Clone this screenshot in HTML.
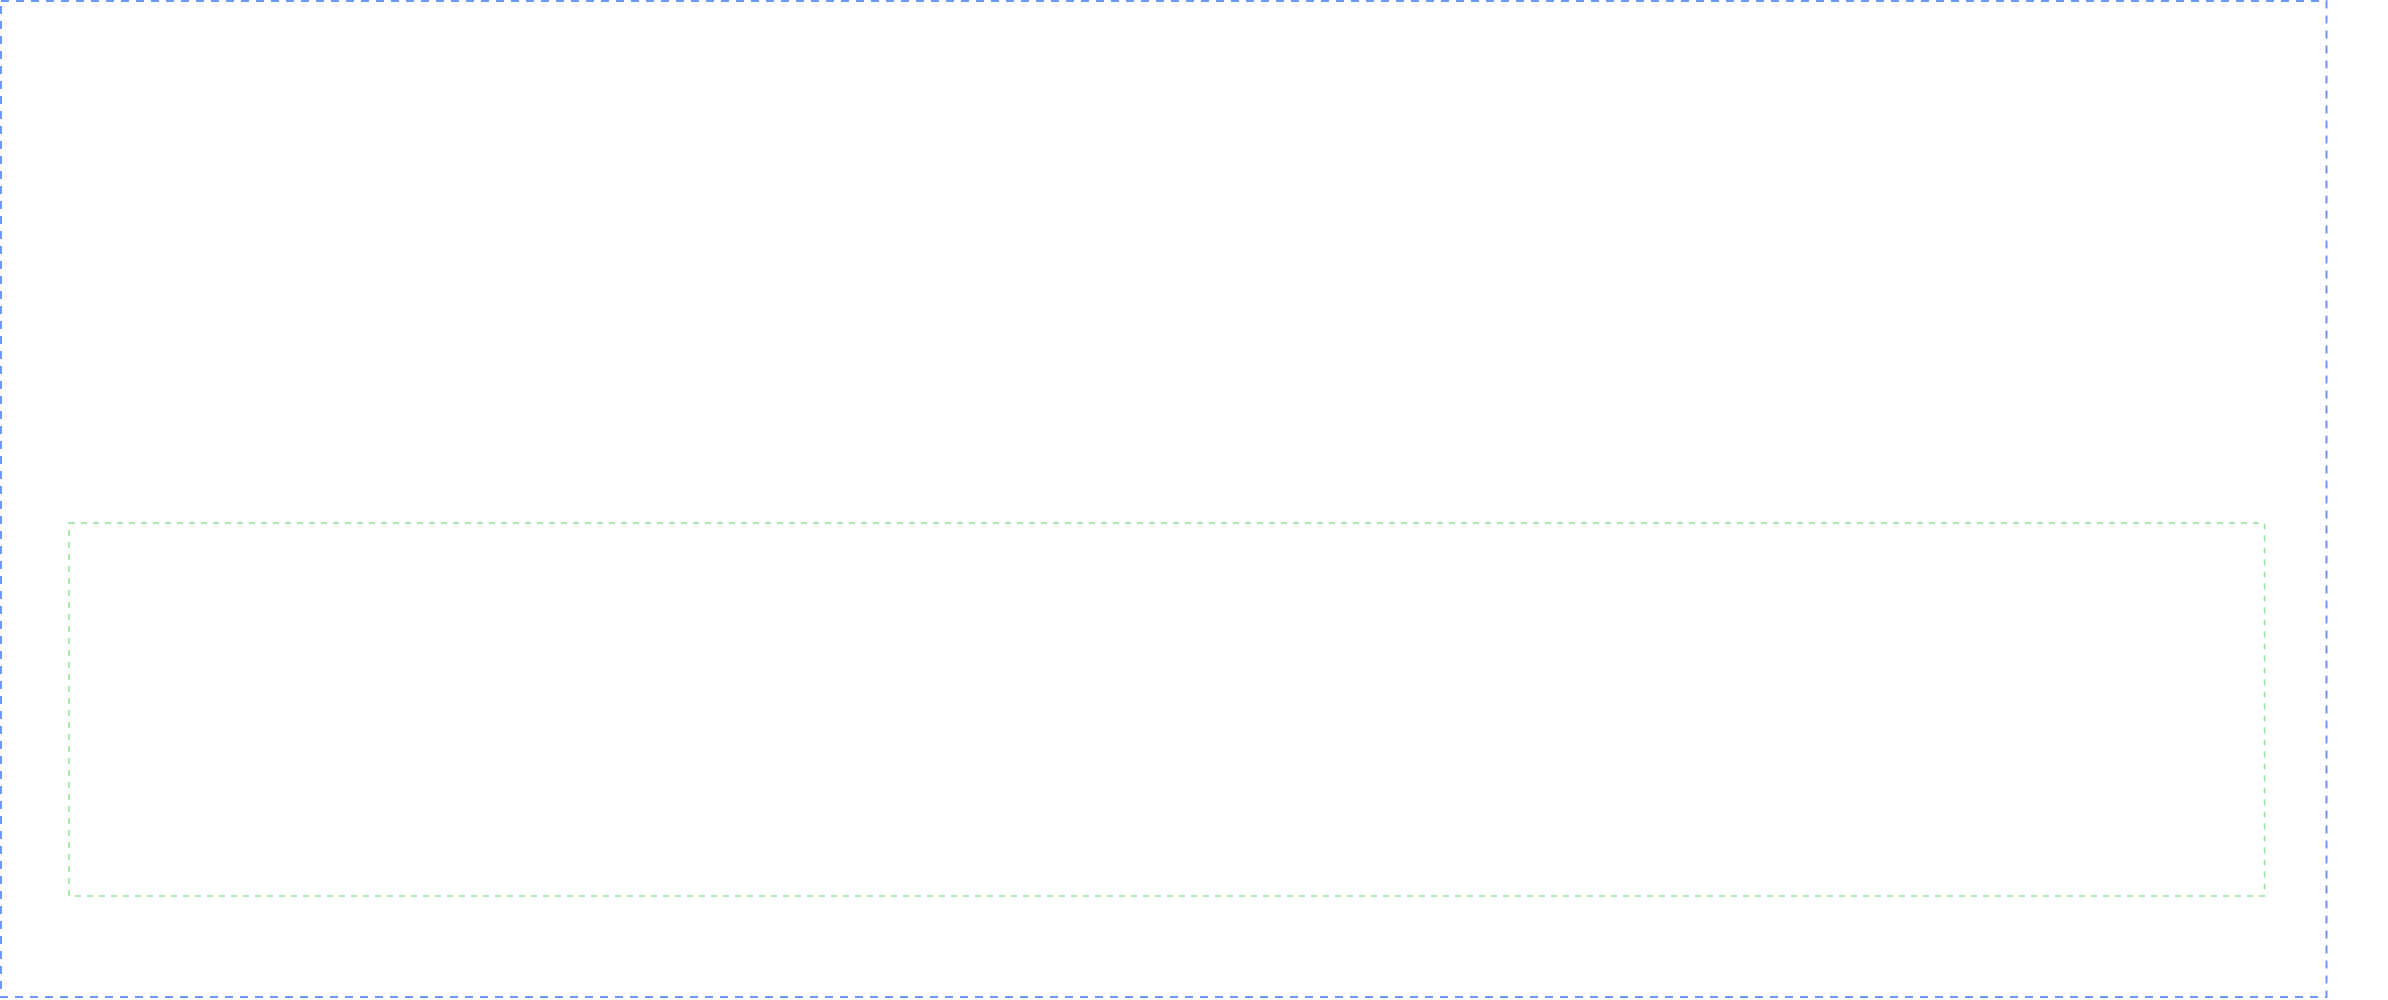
<!DOCTYPE html>
<html><head><meta charset="utf-8"><style>
html,body{margin:0;padding:0;background:#fff;width:2388px;height:1000px;overflow:hidden}
</style></head><body>
<svg width="2388" height="1000" xmlns="http://www.w3.org/2000/svg" style="display:block">
<rect x="1" y="1" width="2325.5" height="996" fill="none" stroke="#6b97ff" stroke-width="2" stroke-dasharray="8,7"/>
<rect x="69" y="523" width="2195.5" height="373" fill="none" stroke="#8fe39a" stroke-width="1.5" stroke-dasharray="6,6"/>
</svg>
</body></html>
